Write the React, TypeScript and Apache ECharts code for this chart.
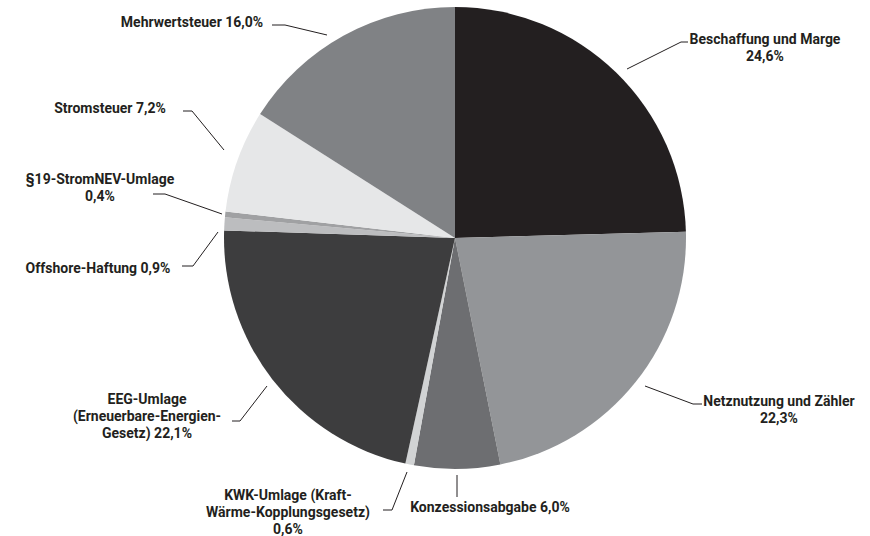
import React, { useEffect, useRef } from "react";
import * as echarts from "echarts";

const categories = [
  "Beschaffung und Marge\n24,6%",
  "Netznutzung und Zähler\n22,3%",
  "Konzessionsabgabe 6,0%",
  "KWK-Umlage (Kraft-\nWärme-Kopplungsgesetz)\n0,6%",
  "EEG-Umlage\n(Erneuerbare-Energien-\nGesetz) 22,1%",
  "Offshore-Haftung 0,9%",
  "§19-StromNEV-Umlage\n0,4%",
  "Stromsteuer 7,2%",
  "Mehrwertsteuer 16,0%",
];
const values = [24.6, 22.3, 6.0, 0.6, 22.1, 0.9, 0.4, 7.2, 16.0];
const colors = ["#231f20", "#939598", "#6d6e71", "#d1d3d4", "#3d3d3e", "#bcbdbf", "#a0a1a3", "#e6e7e8", "#808285"];

// label layout (text anchor centre + leader line points), separate from data
const labelAnchors: [number, number][] = [
  [765, 47],
  [779, 409],
  [490, 507],
  [288, 512],
  [147, 416],
  [98, 268],
  [100, 187],
  [110, 108],
  [192, 22],
];
const leaderLines: [number, number][][] = [
  [[627, 69], [681, 42], [688, 42]],
  [[645, 386], [693, 404], [702, 404]],
  [[457, 475], [457, 497]],
  [[407, 472], [392, 510], [383, 510]],
  [[267, 386], [240, 421], [232, 421]],
  [[218, 232], [193, 266], [182, 266]],
  [[222, 214], [165, 194], [153, 194]],
  [[224, 150], [192, 111], [183, 111]],
  [[327, 35], [285, 25], [272, 25]],
];

export default function App() {
  const ref = useRef<HTMLDivElement>(null);
  useEffect(() => {
    document.body.style.margin = "0";
    const chart = echarts.init(ref.current!, null, { renderer: "svg" });
    chart.setOption({
      animation: false,
      backgroundColor: "#ffffff",
      series: [
        {
          type: "pie",
          center: [455, 238],
          radius: 231,
          startAngle: 90,
          clockwise: true,
          avoidLabelOverlap: false,
          silent: true,
          itemStyle: { borderWidth: 0 },
          label: {
            show: true,
            position: "outside",
            formatter: "{b}",
            color: "#231f20",
            fontFamily: "'Liberation Sans Narrow', 'Arial Narrow', 'Roboto', sans-serif",
            fontWeight: "bold",
            fontSize: 14,
            lineHeight: 17,
            align: "center",
          },
          labelLine: {
            show: true,
            lineStyle: { color: "#231f20", width: 1 },
          },
          labelLayout: (p: any) => {
            const i = p.dataIndex;
            return {
              x: labelAnchors[i][0],
              y: labelAnchors[i][1],
              align: "center",
              verticalAlign: "middle",
              labelLinePoints: leaderLines[i],
            };
          },
          data: categories.map((name, i) => ({
            name,
            value: values[i],
            itemStyle: { color: colors[i] },
          })),
        },
      ],
    });
    return () => chart.dispose();
  }, []);
  return <div ref={ref} style={{ width: 870, height: 536 }} />;
}
